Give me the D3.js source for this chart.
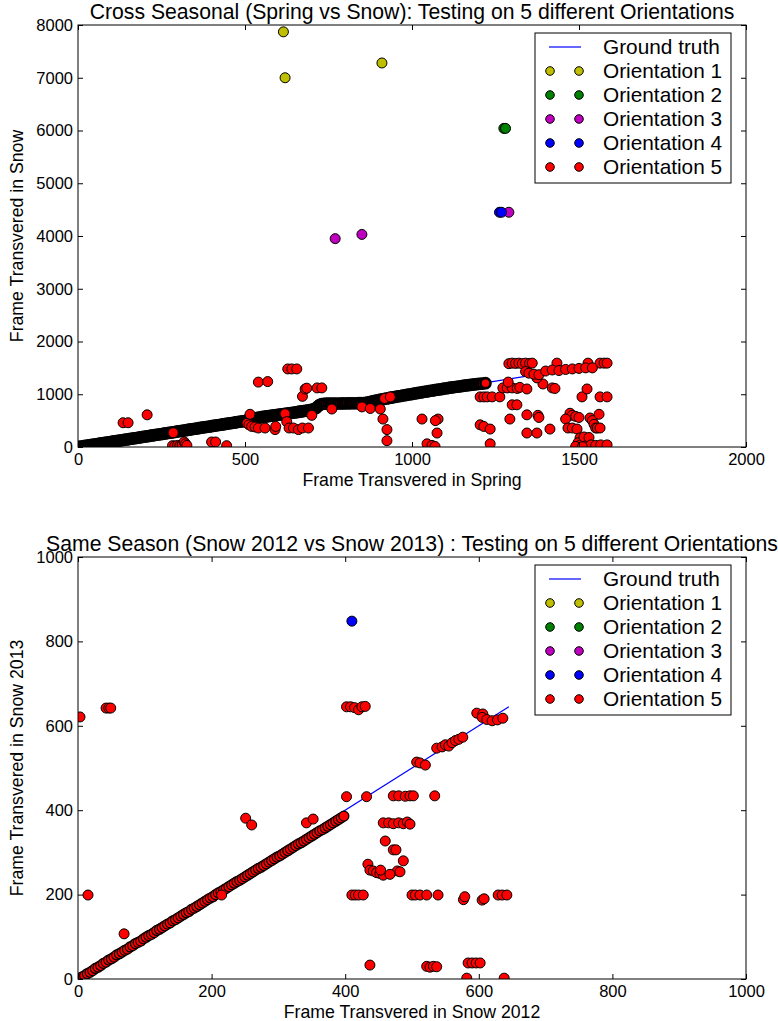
<!DOCTYPE html>
<html>
<head>
<meta charset="utf-8">
<script src="https://cdn.jsdelivr.net/npm/d3@7"></script>
<style>
body { margin: 0; background: #fff; }
text { font-family: "Liberation Sans", Arial, sans-serif; fill: #000; }
</style>
</head>
<body>
<svg id="chart" width="778" height="1021"></svg>
<script>
// ---- data ----
var legendLabels = ["Ground truth", "Orientation 1", "Orientation 2", "Orientation 3", "Orientation 4", "Orientation 5"];
var orientColors = ["#bfbf00", "#008000", "#bf00bf", "#0000ff", "#ff0000"];

// panel 1 : Spring vs Snow
var topTitle = "Cross Seasonal (Spring vs Snow): Testing on 5 different Orientations";
var topXLabel = "Frame Transvered in Spring";
var topYLabel = "Frame Transvered in Snow";
var topXTicks = [0, 500, 1000, 1500, 2000];
var topYTicks = [0, 1000, 2000, 3000, 4000, 5000, 6000, 7000, 8000];
var topTruth = [[0, 0], [1590, 1590]];
var topO1 = [[615, 7870], [620, 7000], [910, 7280]];
var topO2 = [[1275, 6040], [1280, 6040]];
var topO3 = [[770, 3950], [850, 4030], [1290, 4450]];
var topO4 = [[1262, 4450], [1268, 4450]];
var topO5Band = [[0,0],[4,5],[9,8],[15,14],[20,21],[26,24],[31,30],[37,36],[42,43],[48,46],[53,52],[59,57],[64,65],[70,68],[75,73],[81,80],[86,84],[92,90],[97,96],[103,101],[108,107],[114,112],[119,118],[125,121],[130,128],[136,134],[141,139],[147,143],[152,150],[158,155],[163,161],[169,166],[174,172],[180,176],[185,183],[191,187],[196,193],[202,199],[207,204],[213,208],[218,215],[224,221],[229,225],[235,231],[240,237],[246,242],[251,247],[257,253],[262,259],[268,263],[273,269],[279,275],[284,280],[290,285],[295,292],[301,296],
  [306,302],[312,307],[317,313],[323,318],[328,324],[334,329],[339,335],[345,340],[350,346],[356,351],[361,357],[367,362],[372,368],[378,373],[383,379],[389,384],[394,390],[400,395],[405,401],[411,406],[416,412],[422,417],[427,423],[433,428],[438,434],[444,439],[449,445],[455,450],[460,456],[466,461],[471,467],[477,472],[482,478],[488,483],[493,489],[499,494],
  [505,505],[510,512],[516,520],[521,528],[527,536],[532,545],[538,552],[543,560],[549,566],[554,571],[560,576],[565,580],[571,585],[576,590],[582,594],[587,599],[593,604],[598,609],[604,614],[609,619],[615,624],[620,629],[626,634],[631,639],[637,644],[642,649],[648,654],[653,660],[659,665],[664,670],[670,676],[675,681],[681,687],[686,692],[692,698],[697,704],[703,712],[708,722],[714,745],[719,775],[724,800],[730,815],
  [736,820],[743,822],[750,823],[757,822],[764,824],[771,825],[778,826],[785,825],[792,827],[799,826],[806,828],[813,827],[820,829],[827,828],[834,830],[841,831],[848,833],[855,835],[862,840],[869,848],[876,858],[882,866],
  [888,874],[894,882],[900,890],[906,898],[912,905],[918,912],[924,920],[930,927],[936,934],[942,941],[948,948],[954,955],[960,962],[966,968],[972,975],[978,982],[984,988],[990,995],[996,1001],[1002,1008],[1008,1014],[1014,1021],[1020,1027],[1026,1034],[1032,1040],[1038,1046],[1044,1053],[1050,1059],[1056,1065],[1062,1072],[1068,1078],[1074,1084],[1080,1090],[1086,1096],[1092,1102],[1098,1108],[1104,1114],[1110,1120],[1116,1126],[1122,1131],[1128,1137],[1134,1142],[1140,1148],[1146,1153],[1152,1158],[1158,1163],[1164,1168],[1170,1173],[1176,1178],[1182,1183],[1188,1188],[1194,1192],[1200,1196],[1206,1200],[1212,1204],[1220,1210]];
var topO5Off = [[135,460],[150,460],[207,610],[285,270],[283,25],[290,20],[298,30],[305,25],[312,40],[318,95],[322,60],[326,30],[400,95],[412,95],[445,25],
  [506,450],[515,620],[512,420],[520,390],[530,380],[540,360],[560,360],[540,1230],[568,1240],
  [590,330],[592,390],[620,630],[625,480],[628,1480],[640,1480],[655,1480],[632,360],[645,360],[660,330],[672,960],[680,1100],[685,1115],[672,360],[690,360],[700,600],[716,1120],[730,1120],[760,720],[850,760],[875,730],[905,720],
  [913,530],[925,330],[925,120],[918,920],[935,950],[1030,530],[1045,60],[1060,30],[1069,10],[1075,265],[1078,530],[1070,500],
  [1204,950],[1215,950],[1225,950],[1240,950],[1263,950],[1204,420],[1215,390],[1234,340],[1234,60],
  [1272,1120],[1285,1120],[1300,1120],[1315,1110],[1323,1130],[1344,1100],[1288,1230],[1300,800],[1314,800],[1293,530],[1344,610],[1377,600],[1380,560],[1344,265],[1374,265],[1413,340],[1420,1120],[1428,1110],[1392,1195],[1374,1310],
  [1290,1580],[1300,1590],[1310,1585],[1320,1590],[1330,1580],[1340,1590],[1352,1585],[1360,1590],[1434,1590],[1527,1590],[1563,1590],[1575,1590],[1584,1590],
  [1340,1430],[1350,1400],[1365,1380],[1380,1370],[1400,1440],[1420,1460],[1440,1450],[1460,1470],[1480,1480],[1500,1490],[1520,1500],[1540,1500],
  [1473,640],[1480,600],[1490,580],[1500,560],[1460,530],[1467,360],[1480,360],[1494,340],[1503,170],[1497,80],[1505,40],[1515,190],[1520,20],[1530,180],[1533,550],[1540,500],[1545,430],[1550,360],[1555,360],[1563,360],[1560,620],[1509,950],[1524,1100],[1563,950],[1584,950],[1536,40],[1550,30],[1565,40],[1584,40],[1490,10],[1510,5]];

// panel 2 : Snow 2012 vs Snow 2013
var botTitle = "Same Season (Snow 2012 vs Snow 2013) : Testing on 5 different Orientations";
var botXLabel = "Frame Transvered in Snow 2012";
var botYLabel = "Frame Transvered in Snow 2013";
var botXTicks = [0, 200, 400, 600, 800, 1000];
var botYTicks = [0, 200, 400, 600, 800, 1000];
var botTruth = [[0, 0], [645, 645]];
var botO1 = [], botO2 = [], botO3 = [];
var botO4 = [[410, 848]];
var botO5Band = [[2,1],[6,5],[10,8],[14,13],[18,16],[22,20],[26,25],[30,28],[34,32],[38,37],[42,40],[46,45],[50,48],[54,52],[58,57],[62,60],[66,64],[70,68],[74,71],[78,76],[82,79],[86,84],[90,87],[94,90],[98,95],[102,99],[106,103],[110,106],[114,110],[118,115],[122,118],[126,122],[130,126],[134,130],[138,133],[142,138],[146,141],[150,145],[154,149],[158,153],[162,157],[166,160],[170,165],[174,168],[178,172],[182,176],[186,180],[190,184],[194,188],[198,192],[202,195],[206,200],[210,204],[214,207],[218,211],[222,215],[226,219],[230,223],[234,227],[238,231],[242,234],[246,238],[250,242],[254,246],[258,250],[262,254],[266,258],[270,262],[274,265],[278,269],[282,273],[286,277],[290,281],[294,285],[298,289],[302,292],[306,296],[310,300],[314,304],[318,308],[322,312],[326,316],[330,320],[334,323],[338,327],[342,331],[346,335],[350,339],[354,343],[358,347],[362,351],[366,354],[370,358],[374,362],[378,366],[382,370],[386,374],[390,378],[394,382],[398,386]];
var botO5Off = [[3,621],[42,642],[46,642],[49,642],[15,199],[69,107],[251,381],[260,365],[215,199],[342,370],[352,379],[402,432],[432,432],[410,199],[415,199],[420,199],[427,199],[437,33],[434,272],[437,258],[442,256],[447,252],[452,250],[457,246],
  [402,645],[408,645],[414,643],[420,638],[425,645],[430,646],
  [457,370],[465,370],[472,368],[480,370],[487,368],[493,372],[497,367],
  [460,327],[472,306],[476,306],[487,280],[478,256],[482,254],[453,258],[467,248],
  [472,434],[480,434],[490,433],[497,434],[502,434],[534,434],
  [507,514],[512,512],[520,507],
  [537,547],[545,550],[550,555],[555,552],[560,560],[565,565],[570,568],[576,573],
  [597,630],[606,628],[605,620],[612,615],[620,612],[628,614],[636,618],
  [500,199],[505,199],[512,199],[522,199],[539,199],[577,188],[579,195],[605,187],[608,190],[629,199],[635,199],[642,199],
  [522,30],[527,28],[532,30],[537,29],[584,38],[590,38],[596,38],[602,38],[582,2],[638,2]];

// ---- layout ----
var plotW = 668, plotH = 422;
var svg = d3.select("#chart");

function drawPanel(id, top, o) {
  var g = svg.append("g").attr("transform", "translate(78," + top + ")");

  var x = d3.scaleLinear().domain([0, o.xTicks[o.xTicks.length - 1]]).range([0, plotW]);
  var y = d3.scaleLinear().domain([0, o.yTicks[o.yTicks.length - 1]]).range([plotH, 0]);

  svg.append("clipPath").attr("id", "clip" + id)
    .append("rect").attr("width", plotW).attr("height", plotH);

  var inner = g.append("g").attr("clip-path", "url(#clip" + id + ")");

  // ground truth
  inner.append("path")
    .datum(o.truth)
    .attr("d", d3.line().x(function(d) { return x(d[0]); }).y(function(d) { return y(d[1]); }))
    .attr("fill", "none")
    .attr("stroke", "#0000ff")
    .attr("stroke-width", 1.2);

  // orientations (index 4 = dense diagonal run of orientation 5)
  o.series.forEach(function(pts, i) {
    inner.append("g").selectAll("circle")
      .data(pts)
      .enter().append("circle")
      .attr("cx", function(d) { return x(d[0]); })
      .attr("cy", function(d) { return y(d[1]); })
      .attr("r", 5)
      .attr("fill", orientColors[Math.min(i, 4)])
      .attr("stroke", "#000")
      .attr("stroke-width", i === 4 ? o.bandEdge : 1);
  });

  // axes, ticks inward on all four sides
  g.append("g").attr("transform", "translate(0," + plotH + ")")
    .call(d3.axisBottom(x).tickValues(o.xTicks).tickFormat(d3.format("d")).tickSizeInner(-5).tickSizeOuter(0).tickPadding(6));
  g.append("g")
    .call(d3.axisLeft(y).tickValues(o.yTicks).tickFormat(d3.format("d")).tickSizeInner(-5).tickSizeOuter(0).tickPadding(5));
  g.append("g")
    .call(d3.axisTop(x).tickValues(o.xTicks).tickFormat("").tickSizeInner(-5).tickSizeOuter(0));
  g.append("g").attr("transform", "translate(" + plotW + ",0)")
    .call(d3.axisRight(y).tickValues(o.yTicks).tickFormat("").tickSizeInner(-5).tickSizeOuter(0));
  g.selectAll(".domain").remove();
  g.selectAll(".tick line").attr("stroke", "#000");
  g.selectAll(".tick text").style("font-size", "16.5px").attr("fill", "#000")
    .style("font-family", "'Liberation Sans', Arial, sans-serif");

  g.append("rect")
    .attr("width", plotW).attr("height", plotH)
    .attr("fill", "none").attr("stroke", "#000").attr("stroke-width", 1);

  // titles
  g.append("text")
    .attr("x", plotW / 2).attr("y", -6)
    .attr("text-anchor", "middle")
    .style("font-size", "21.2px")
    .text(o.title);
  g.append("text")
    .attr("x", plotW / 2).attr("y", plotH + 39)
    .attr("text-anchor", "middle")
    .style("font-size", "17.7px")
    .text(o.xLabel);
  g.append("text")
    .attr("transform", "translate(-55," + (plotH / 2) + ") rotate(-90)")
    .attr("text-anchor", "middle")
    .style("font-size", "17.7px")
    .text(o.yLabel);

  // legend
  var lg = g.append("g").attr("transform", "translate(457,8)");
  lg.append("rect")
    .attr("width", 196).attr("height", 150)
    .attr("fill", "#fff").attr("stroke", "#000").attr("stroke-width", 1);
  legendLabels.forEach(function(lab, i) {
    var cy = 14 + i * 24;
    if (i === 0) {
      lg.append("line")
        .attr("x1", 14).attr("x2", 46).attr("y1", cy).attr("y2", cy)
        .attr("stroke", "#0000ff").attr("stroke-width", 1.2);
    } else {
      [15, 44].forEach(function(cx) {
        lg.append("circle")
          .attr("cx", cx).attr("cy", cy).attr("r", 4.3)
          .attr("fill", orientColors[i - 1])
          .attr("stroke", "#000").attr("stroke-width", 1);
      });
    }
    lg.append("text")
      .attr("x", 68).attr("y", cy + 7)
      .style("font-size", "20.8px")
      .text(lab);
  });
}

drawPanel("top", 25, {
  title: topTitle, xLabel: topXLabel, yLabel: topYLabel,
  xTicks: topXTicks, yTicks: topYTicks, truth: topTruth, bandEdge: 2.6,
  series: [topO1, topO2, topO3, topO4, topO5Band, topO5Off]
});

drawPanel("bot", 557, {
  title: botTitle, xLabel: botXLabel, yLabel: botYLabel,
  xTicks: botXTicks, yTicks: botYTicks, truth: botTruth, bandEdge: 1.2,
  series: [botO1, botO2, botO3, botO4, botO5Band, botO5Off]
});
</script>
</body>
</html>
